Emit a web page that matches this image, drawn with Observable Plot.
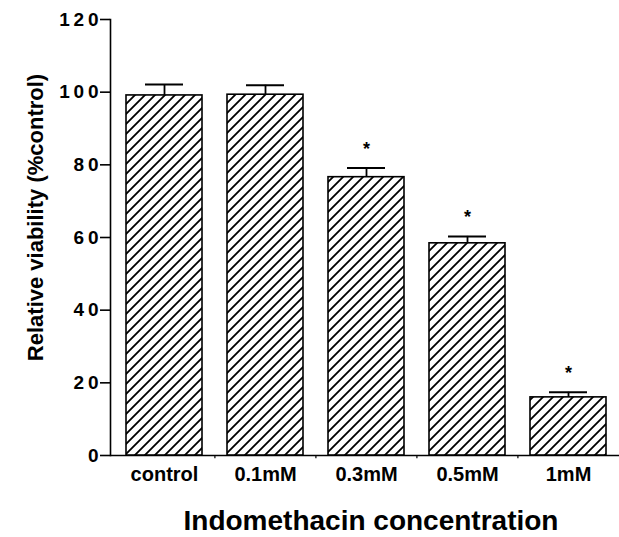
<!DOCTYPE html>
<html>
<head>
<meta charset="utf-8">
<script src="https://cdn.jsdelivr.net/npm/d3@7"></script>
<script src="https://cdn.jsdelivr.net/npm/@observablehq/plot@0.6"></script>
<style>
  html, body { margin: 0; padding: 0; background: #fff; }
  #chart svg { font-family: "Liberation Sans", Arial, sans-serif; overflow: visible; }
</style>
</head>
<body>
<div id="chart"></div>
<script>
// ---- data ----
const categories = ["control", "0.1mM", "0.3mM", "0.5mM", "1mM"];
const means      = [99.1, 99.3, 76.6, 58.4, 16.0];
const upper      = [102.1, 101.9, 79.1, 60.3, 17.4];   // mean + error
const significant = [false, false, true, true, true];
const yTicks = [0, 20, 40, 60, 80, 100, 120];
const yLabel = "Relative viability (%control)";
const xLabel = "Indomethacin concentration";

const data = categories.map((c, i) => ({cat: c, mean: means[i], upper: upper[i], sig: significant[i]}));

const W = 619, H = 537;
const mL = 110, mR = 0, mT = 19, mB = 82, inset = 3;
const pInner = 0.25, pOuter = 0.125;
const step = (W - mL - mR - inset) / (categories.length - pInner + 2 * pOuter);

const chart = Plot.plot({
  width: W, height: H,
  marginLeft: mL, marginRight: mR, marginTop: mT, marginBottom: mB,
  x: {domain: categories, paddingInner: pInner, paddingOuter: pOuter, insetLeft: inset, label: null},
  y: {domain: [0, 120], label: null},
  marks: [
    Plot.frame({anchor: "left", strokeWidth: 1.6}),
    Plot.ruleY([0], {strokeWidth: 1.6}),
    Plot.ruleX(categories.slice(1), {x: d => d, y1: 0, y2: -0.9, dx: -step / 2, strokeWidth: 1.2}),
    Plot.axisY({ticks: yTicks, tickSize: 10, tickPadding: 2, fontSize: 19, fontWeight: "bold",
      tickFormat: d => String(d).split("").join("\u2009"), strokeWidth: 1.6, label: null}),
    Plot.axisX({tickSize: 0, tickPadding: 11, fontSize: 20, fontWeight: "bold", label: null}),
    Plot.ruleX(data, {x: "cat", y1: "mean", y2: "upper", strokeWidth: 1.8}),
    Plot.tickY(data, {x: "cat", y: "upper", insetLeft: 19, insetRight: 19, strokeWidth: 2}),
    Plot.barY(data, {x: "cat", y: "mean", fill: "url(#hatch)", stroke: "black", strokeWidth: 1.6}),
    Plot.text(data.filter(d => d.sig), {x: "cat", y: "upper", text: () => "*", dy: -19, fontSize: 18, fontWeight: "bold"}),
    Plot.text([yLabel], {frameAnchor: "left", textAnchor: "middle", rotate: -90, dx: -75, dy: -20, fontSize: 22, fontWeight: "bold", lineAnchor: "middle"}),
    Plot.text([xLabel], {frameAnchor: "bottom", textAnchor: "middle", dx: 6, dy: 66, fontSize: 28, fontWeight: "bold", lineAnchor: "middle"})
  ]
});

const svgSel = d3.select(chart);
const defs = svgSel.insert("defs", ":first-child");
const pat = defs.append("pattern")
  .attr("id", "hatch").attr("patternUnits", "userSpaceOnUse")
  .attr("width", 10).attr("height", 10);
pat.append("rect").attr("width", 10).attr("height", 10).attr("fill", "white");
pat.append("path").attr("d", "M-2,2 L2,-2 M0,10 L10,0 M8,12 L12,8")
  .attr("stroke", "black").attr("stroke-width", 1.8);

document.getElementById("chart").appendChild(chart);
</script>
</body>
</html>
